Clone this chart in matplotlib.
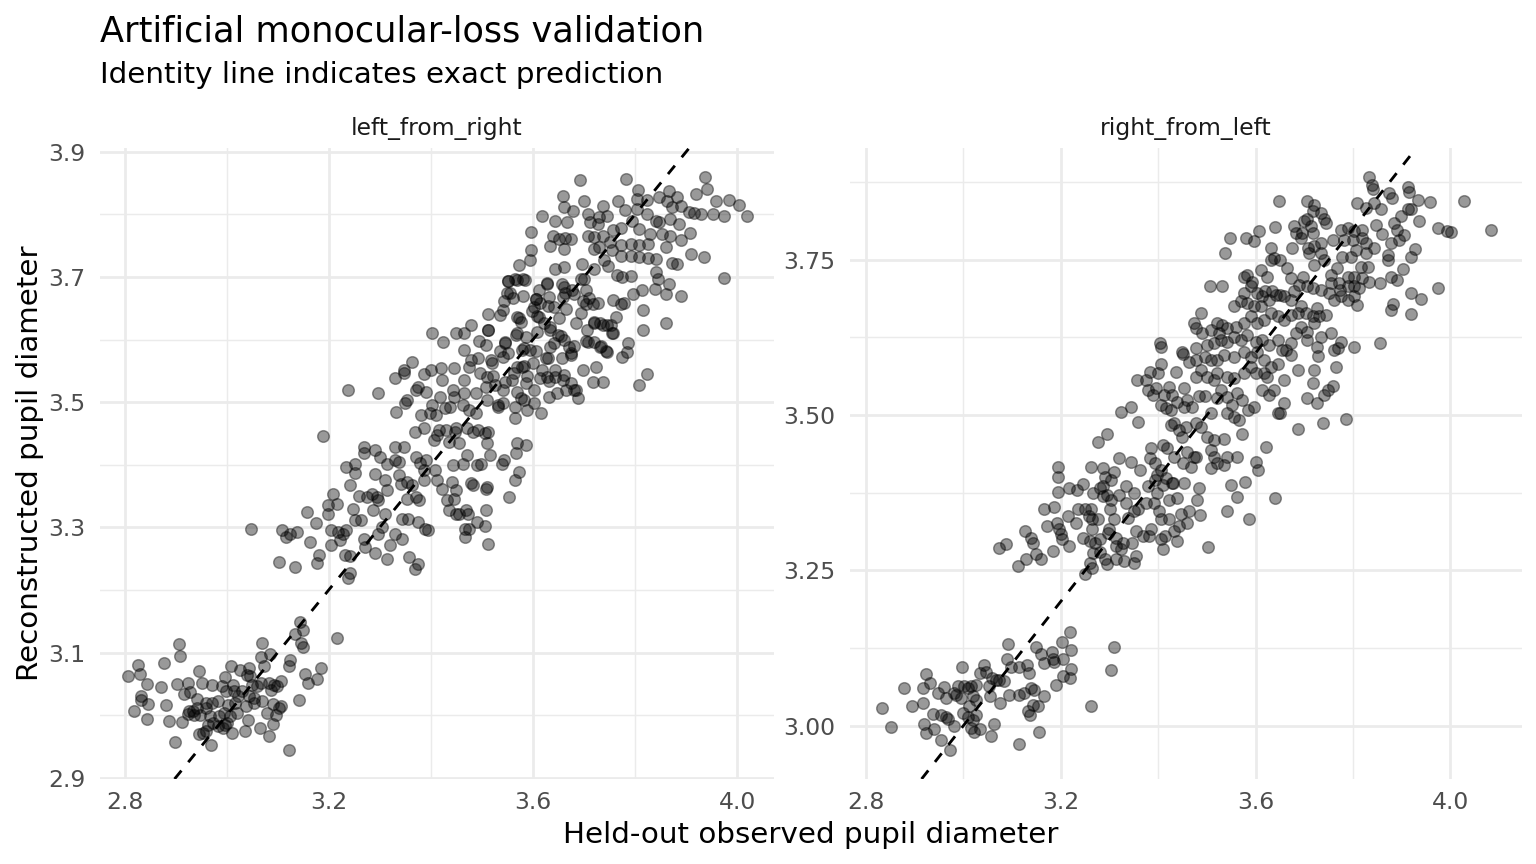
#!/usr/bin/env python3
"""
Artificial monocular-loss validation
Held-out observed vs reconstructed pupil diameter, one panel per direction.
"""

import numpy as np
import matplotlib
matplotlib.use("Agg")
import matplotlib.pyplot as plt

# ---------------------------------------------------------------
# data: (observed, reconstructed)
# ---------------------------------------------------------------

# left_from_right, low cluster
left_low = [
    (2.807, 3.062), (2.826, 3.080), (2.830, 3.066), (2.844, 3.050), (2.833, 3.030),
    (2.833, 3.024), (2.818, 3.007), (2.846, 3.018), (2.845, 2.994), (2.877, 3.083),
    (2.906, 3.114), (2.909, 3.095), (2.871, 3.045), (2.881, 3.016), (2.888, 2.991),
    (2.899, 2.957), (2.903, 3.050), (2.916, 3.033), (2.924, 3.051), (2.928, 3.037),
    (2.945, 3.071), (2.952, 3.052), (2.942, 3.026), (2.913, 2.989), (2.924, 3.002),
    (2.934, 3.006), (2.942, 3.011), (2.947, 3.001), (2.960, 3.019), (2.971, 3.048),
    (2.972, 3.020), (2.967, 2.998), (2.964, 2.985), (2.946, 2.970), (2.954, 2.971),
    (2.969, 2.953), (2.983, 3.022), (2.985, 2.998), (2.990, 3.046), (2.997, 3.061),
    (2.999, 3.038), (3.003, 3.016), (3.000, 2.987), (2.993, 2.979), (3.010, 2.972),
    (3.008, 3.079), (3.012, 3.048), (3.015, 3.039), (3.020, 3.003), (3.027, 3.072),
    (3.030, 3.039), (3.038, 3.014), (3.043, 3.031), (3.044, 3.075), (3.049, 3.048),
    (3.042, 2.993), (3.036, 2.975), (3.070, 3.115), (3.068, 3.093), (3.074, 3.078),
    (3.085, 3.098), (3.068, 3.052), (3.083, 3.051), (3.093, 3.048), (3.106, 3.055),
    (3.070, 3.022), (3.090, 3.018), (3.103, 3.012), (3.096, 3.001), (3.090, 2.986),
    (3.066, 2.979), (3.083, 2.967), (3.122, 2.944), (3.124, 3.088), (3.123, 3.079),
    (3.143, 3.149), (3.149, 3.136), (3.133, 3.130), (3.146, 3.116), (3.149, 3.109),
    (3.154, 3.066), (3.159, 3.052), (3.177, 3.057), (3.185, 3.075), (3.141, 3.024),
    (3.217, 3.123), (3.238, 3.219), (2.926, 3.006), (2.937, 3.001), (2.959, 3.011),
    (2.974, 2.988), (2.983, 2.982), (2.995, 3.003), (3.007, 2.998), (3.017, 3.019),
    (3.023, 3.030), (3.053, 3.027), (3.054, 3.019), (3.060, 3.046), (3.086, 3.040),
    (3.098, 3.046), (3.106, 3.014), (3.079, 3.003), (3.046, 3.062), (3.040, 3.064),
    (2.997, 2.984), (2.960, 2.974),
]

# left_from_right, middle band
left_mid = [
    (3.047, 3.297), (3.109, 3.296), (3.117, 3.284), (3.125, 3.290), (3.137, 3.293),
    (3.158, 3.324), (3.175, 3.307), (3.163, 3.276), (3.180, 3.256), (3.177, 3.243),
    (3.102, 3.244), (3.133, 3.237), (3.188, 3.446), (3.238, 3.520), (3.297, 3.515),
    (3.199, 3.322), (3.198, 3.336), (3.209, 3.354), (3.216, 3.337), (3.205, 3.296),
    (3.218, 3.293), (3.228, 3.290), (3.234, 3.296), (3.223, 3.280), (3.205, 3.272),
    (3.231, 3.256), (3.242, 3.254), (3.241, 3.227), (3.241, 3.368), (3.248, 3.329),
    (3.251, 3.312), (3.264, 3.312), (3.270, 3.282), (3.260, 3.350), (3.274, 3.349),
    (3.284, 3.354), (3.294, 3.349), (3.297, 3.344), (3.287, 3.328), (3.297, 3.290),
    (3.304, 3.301), (3.310, 3.322), (3.314, 3.360), (3.271, 3.269), (3.290, 3.259),
    (3.314, 3.249), (3.320, 3.272), (3.330, 3.290), (3.343, 3.281), (3.343, 3.314),
    (3.356, 3.314), (3.375, 3.309), (3.389, 3.298), (3.394, 3.296), (3.358, 3.253),
    (3.375, 3.241), (3.369, 3.233), (3.234, 3.397), (3.251, 3.402), (3.251, 3.387),
    (3.270, 3.429), (3.270, 3.419), (3.291, 3.424), (3.301, 3.413), (3.290, 3.385),
    (3.311, 3.376), (3.314, 3.402), (3.329, 3.429), (3.330, 3.407), (3.337, 3.405),
    (3.347, 3.429), (3.337, 3.384), (3.342, 3.370), (3.354, 3.373), (3.363, 3.368),
    (3.370, 3.349), (3.377, 3.344), (3.354, 3.346), (3.370, 3.413), (3.379, 3.403),
    (3.390, 3.407), (3.387, 3.392), (3.387, 3.376), (3.409, 3.392), (3.412, 3.376),
    (3.422, 3.362), (3.432, 3.344), (3.442, 3.373), (3.446, 3.346), (3.449, 3.360),
    (3.436, 3.328), (3.449, 3.322), (3.456, 3.322), (3.469, 3.328), (3.472, 3.322),
    (3.482, 3.368), (3.479, 3.371), (3.466, 3.298), (3.474, 3.298), (3.491, 3.309),
    (3.466, 3.284), (3.508, 3.361), (3.509, 3.364), (3.507, 3.328), (3.506, 3.302),
    (3.512, 3.274), (3.553, 3.349), (3.564, 3.376), (3.573, 3.389), (3.407, 3.439),
    (3.412, 3.447), (3.436, 3.437), (3.448, 3.453), (3.455, 3.434), (3.470, 3.415),
    (3.444, 3.399), (3.463, 3.402), (3.491, 3.399), (3.499, 3.402), (3.516, 3.415),
    (3.539, 3.402), (3.544, 3.408), (3.566, 3.419), (3.569, 3.434), (3.586, 3.431),
    (3.509, 3.434), (3.506, 3.450), (3.512, 3.453), (3.493, 3.456), (3.483, 3.453),
    (3.470, 3.458), (3.450, 3.458), (3.430, 3.455), (3.416, 3.455), (3.387, 3.458),
    (3.369, 3.453), (3.332, 3.485), (3.350, 3.498), (3.354, 3.503), (3.374, 3.524),
    (3.381, 3.479), (3.402, 3.495), (3.399, 3.482), (3.410, 3.479), (3.417, 3.508),
    (3.428, 3.490), (3.438, 3.493), (3.446, 3.508), (3.462, 3.495), (3.464, 3.514),
    (3.475, 3.487), (3.488, 3.482), (3.347, 3.551), (3.347, 3.546), (3.363, 3.564),
    (3.330, 3.538), (3.387, 3.545), (3.400, 3.551), (3.420, 3.554), (3.422, 3.535),
    (3.370, 3.519), (3.390, 3.517), (3.443, 3.519), (3.446, 3.554), (3.464, 3.536),
    (3.403, 3.611), (3.424, 3.596), (3.450, 3.610), (3.464, 3.610), (3.478, 3.623),
    (3.464, 3.583), (3.478, 3.567), (3.474, 3.556),
]

# left_from_right, upper cloud
left_high = [
    (3.692, 3.855), (3.782, 3.856), (3.937, 3.859), (3.940, 3.841), (3.919, 3.833),
    (3.958, 3.821), (3.983, 3.823), (4.003, 3.815), (4.019, 3.798), (3.975, 3.798),
    (3.952, 3.801), (3.929, 3.801), (3.916, 3.802), (3.906, 3.804), (3.975, 3.699),
    (3.805, 3.839), (3.803, 3.825), (3.823, 3.823), (3.846, 3.828), (3.866, 3.837),
    (3.883, 3.828), (3.863, 3.822), (3.873, 3.812), (3.889, 3.814), (3.767, 3.822),
    (3.780, 3.807), (3.803, 3.809), (3.823, 3.801), (3.840, 3.790), (3.846, 3.788),
    (3.869, 3.793), (3.886, 3.784), (3.907, 3.770), (3.889, 3.759), (3.869, 3.766),
    (3.853, 3.769), (3.830, 3.768), (3.807, 3.777), (3.793, 3.790), (3.773, 3.779),
    (3.757, 3.775), (3.751, 3.756), (3.737, 3.814), (3.730, 3.796), (3.745, 3.798),
    (3.707, 3.801), (3.711, 3.788), (3.727, 3.785), (3.707, 3.766), (3.720, 3.764),
    (3.737, 3.766), (3.699, 3.821), (3.679, 3.806), (3.661, 3.811), (3.658, 3.829),
    (3.618, 3.798), (3.644, 3.790), (3.666, 3.788), (3.640, 3.766), (3.651, 3.760),
    (3.662, 3.763), (3.674, 3.760), (3.634, 3.749), (3.660, 3.744), (3.596, 3.772),
    (3.597, 3.743), (3.595, 3.727), (3.573, 3.719), (3.644, 3.712), (3.660, 3.716),
    (3.696, 3.721), (3.720, 3.745), (3.730, 3.748), (3.754, 3.743), (3.773, 3.751),
    (3.792, 3.753), (3.808, 3.751), (3.826, 3.753), (3.860, 3.748), (3.873, 3.722),
    (3.883, 3.721), (3.909, 3.737), (3.934, 3.732), (3.825, 3.731), (3.840, 3.729),
    (3.807, 3.732), (3.792, 3.733), (3.772, 3.733), (3.747, 3.717), (3.740, 3.727),
    (3.720, 3.712), (3.764, 3.703), (3.792, 3.701), (3.775, 3.700), (3.840, 3.708),
    (3.844, 3.697), (3.866, 3.689), (3.839, 3.680), (3.860, 3.673), (3.889, 3.670),
    (3.813, 3.679), (3.795, 3.672), (3.778, 3.659), (3.772, 3.656), (3.757, 3.663),
    (3.815, 3.648), (3.815, 3.616), (3.860, 3.626), (3.762, 3.636), (3.745, 3.624),
    (3.755, 3.610), (3.732, 3.627), (3.720, 3.628), (3.732, 3.588), (3.745, 3.580),
    (3.720, 3.596), (3.787, 3.595), (3.785, 3.580), (3.775, 3.572), (3.823, 3.545),
    (3.807, 3.527), (3.724, 3.556), (3.697, 3.552), (3.718, 3.532), (3.738, 3.532),
    (3.689, 3.507), (3.684, 3.520), (3.664, 3.519), (3.658, 3.535), (3.644, 3.540),
    (3.631, 3.508), (3.615, 3.482), (3.588, 3.487), (3.565, 3.474), (3.674, 3.578),
    (3.656, 3.570), (3.707, 3.596), (3.705, 3.615), (3.684, 3.626), (3.694, 3.642),
    (3.704, 3.657), (3.717, 3.657), (3.704, 3.679), (3.694, 3.697), (3.677, 3.679),
    (3.661, 3.684), (3.658, 3.668), (3.664, 3.649), (3.651, 3.634), (3.641, 3.652),
    (3.631, 3.668), (3.628, 3.689), (3.634, 3.620), (3.648, 3.607), (3.661, 3.599),
    (3.671, 3.588), (3.634, 3.588), (3.625, 3.570), (3.628, 3.540), (3.618, 3.551),
    (3.608, 3.612), (3.611, 3.636), (3.601, 3.652), (3.605, 3.665), (3.611, 3.679),
    (3.585, 3.695), (3.568, 3.695), (3.552, 3.694), (3.554, 3.674), (3.542, 3.647),
    (3.535, 3.639), (3.512, 3.641), (3.568, 3.636), (3.576, 3.628), (3.566, 3.607),
    (3.512, 3.615), (3.545, 3.596), (3.586, 3.604), (3.579, 3.583), (3.595, 3.583),
    (3.568, 3.556), (3.579, 3.556), (3.600, 3.562), (3.542, 3.572), (3.519, 3.562),
    (3.509, 3.540), (3.525, 3.527), (3.546, 3.532), (3.558, 3.535), (3.586, 3.530),
    (3.601, 3.519), (3.509, 3.503), (3.532, 3.493), (3.542, 3.498), (3.565, 3.493),
    (3.576, 3.506),
]

# left_from_right, dense core read from a close-up
left_core = [
    (3.552, 3.693), (3.565, 3.696), (3.580, 3.697), (3.549, 3.674), (3.543, 3.661),
    (3.561, 3.666), (3.580, 3.669), (3.605, 3.665), (3.614, 3.658), (3.629, 3.653),
    (3.628, 3.690), (3.657, 3.688), (3.662, 3.674), (3.680, 3.672), (3.700, 3.696),
    (3.697, 3.661), (3.710, 3.666), (3.727, 3.658), (3.720, 3.626), (3.737, 3.624),
    (3.753, 3.624), (3.756, 3.610), (3.733, 3.589), (3.743, 3.581), (3.703, 3.597),
    (3.680, 3.589), (3.674, 3.576), (3.654, 3.605), (3.641, 3.594), (3.634, 3.616),
    (3.621, 3.626), (3.608, 3.637), (3.598, 3.645), (3.572, 3.634), (3.568, 3.610),
    (3.545, 3.594), (3.535, 3.581), (3.512, 3.616), (3.508, 3.592), (3.495, 3.597),
    (3.492, 3.570), (3.518, 3.568), (3.552, 3.578), (3.582, 3.586), (3.605, 3.581),
    (3.629, 3.570), (3.582, 3.557), (3.562, 3.546), (3.588, 3.541), (3.614, 3.538),
    (3.631, 3.533), (3.661, 3.544), (3.644, 3.552), (3.522, 3.541), (3.508, 3.525),
    (3.542, 3.520), (3.568, 3.517), (3.532, 3.496), (3.582, 3.504), (3.602, 3.498),
    (3.647, 3.514), (3.680, 3.520), (3.674, 3.530), (3.496, 3.546), (3.489, 3.514),
]

# right_from_left, low cluster
right_low = [
    (2.832, 3.028), (2.851, 2.997), (2.877, 3.061), (2.894, 3.032), (2.916, 3.036),
    (2.917, 3.060), (2.924, 3.083), (2.932, 3.068), (2.947, 3.052), (2.961, 3.062),
    (2.937, 3.019), (2.954, 3.017), (2.964, 3.014), (2.969, 3.010), (2.918, 3.003),
    (2.923, 2.988), (2.940, 2.994), (2.953, 2.977), (2.973, 2.960), (2.980, 3.000),
    (2.964, 3.044), (2.981, 3.052), (2.988, 3.063), (2.985, 3.049), (2.995, 3.044),
    (2.997, 3.095), (3.002, 3.063), (3.009, 3.060), (3.016, 3.064), (3.026, 3.065),
    (3.033, 3.085), (3.043, 3.098), (3.047, 3.087), (3.019, 3.047), (3.026, 3.041),
    (3.012, 3.031), (2.999, 3.020), (3.009, 3.014), (3.019, 3.009), (3.026, 3.017),
    (3.016, 2.996), (3.021, 2.990), (3.033, 2.994), (3.057, 2.983), (3.062, 3.002),
    (3.053, 3.063), (3.058, 3.076), (3.067, 3.073), (3.074, 3.073), (3.084, 3.072),
    (3.055, 3.047), (3.076, 3.036), (3.089, 3.107), (3.091, 3.132), (3.094, 3.049),
    (3.098, 3.094), (3.115, 3.049), (3.115, 3.095), (3.130, 3.098), (3.134, 3.085),
    (3.125, 3.052), (3.139, 3.060), (3.144, 3.057), (3.132, 3.023), (3.136, 3.017),
    (3.143, 3.033), (3.153, 3.031), (3.166, 3.047), (3.156, 2.989), (3.115, 2.971),
    (3.149, 3.127), (3.160, 3.116), (3.165, 3.100), (3.181, 3.119), (3.183, 3.107),
    (3.185, 3.103), (3.204, 3.108), (3.202, 3.135), (3.218, 3.150), (3.220, 3.121),
    (3.221, 3.091), (3.218, 3.076), (3.204, 3.080), (3.190, 3.065), (3.261, 3.031),
    (3.303, 3.090), (3.310, 3.126),
]

# right_from_left, middle band
right_mid = [
    (3.073, 3.286), (3.087, 3.293), (3.112, 3.257), (3.128, 3.268), (3.127, 3.314),
    (3.138, 3.302), (3.142, 3.294), (3.149, 3.276), (3.159, 3.269), (3.171, 3.321),
    (3.166, 3.349), (3.185, 3.352), (3.183, 3.281), (3.193, 3.326), (3.197, 3.316),
    (3.200, 3.308), (3.203, 3.300), (3.217, 3.289), (3.214, 3.337), (3.231, 3.326),
    (3.195, 3.376), (3.194, 3.401), (3.195, 3.417), (3.217, 3.382), (3.233, 3.380),
    (3.246, 3.389), (3.236, 3.348), (3.250, 3.348), (3.261, 3.348), (3.257, 3.337),
    (3.263, 3.332), (3.277, 3.332), (3.263, 3.316), (3.246, 3.302), (3.259, 3.297),
    (3.270, 3.294), (3.280, 3.300), (3.267, 3.278), (3.280, 3.279), (3.291, 3.268),
    (3.294, 3.260), (3.260, 3.262), (3.263, 3.254), (3.250, 3.244), (3.296, 3.310),
    (3.299, 3.316), (3.310, 3.332), (3.313, 3.302), (3.313, 3.289), (3.327, 3.294),
    (3.323, 3.284), (3.313, 3.269), (3.330, 3.265), (3.350, 3.262), (3.354, 3.273),
    (3.347, 3.294), (3.354, 3.313), (3.368, 3.305), (3.385, 3.316), (3.381, 3.305),
    (3.405, 3.300), (3.409, 3.284), (3.413, 3.305), (3.433, 3.313), (3.439, 3.297),
    (3.443, 3.321), (3.439, 3.366), (3.422, 3.364), (3.402, 3.345), (3.405, 3.332),
    (3.422, 3.332), (3.446, 3.340), (3.460, 3.326), (3.463, 3.345), (3.480, 3.364),
    (3.484, 3.382), (3.486, 3.339), (3.503, 3.288), (3.542, 3.345), (3.561, 3.368),
    (3.549, 3.388), (3.578, 3.393), (3.586, 3.333), (3.600, 3.425), (3.604, 3.412),
    (3.541, 3.433), (3.562, 3.433), (3.535, 3.420), (3.521, 3.423), (3.508, 3.415),
    (3.515, 3.433), (3.508, 3.444), (3.477, 3.433), (3.467, 3.417), (3.453, 3.390),
    (3.431, 3.390), (3.409, 3.388), (3.398, 3.374), (3.392, 3.358), (3.374, 3.358),
    (3.358, 3.348), (3.350, 3.345), (3.337, 3.334), (3.333, 3.358), (3.350, 3.374),
    (3.333, 3.385), (3.320, 3.372), (3.303, 3.364), (3.294, 3.372), (3.287, 3.369),
    (3.300, 3.348), (3.287, 3.385), (3.303, 3.396), (3.310, 3.409), (3.290, 3.401),
    (3.287, 3.415), (3.262, 3.417), (3.280, 3.382), (3.267, 3.374), (3.320, 3.431),
    (3.345, 3.425), (3.363, 3.412), (3.383, 3.431), (3.386, 3.447), (3.393, 3.423),
    (3.397, 3.404), (3.393, 3.396), (3.379, 3.385), (3.405, 3.412), (3.416, 3.399),
    (3.429, 3.390), (3.419, 3.447), (3.409, 3.452), (3.433, 3.433), (3.450, 3.423),
    (3.460, 3.441), (3.474, 3.433), (3.443, 3.476), (3.426, 3.484), (3.433, 3.487),
    (3.323, 3.505), (3.344, 3.513), (3.359, 3.489), (3.277, 3.456), (3.294, 3.470),
    (3.357, 3.556), (3.374, 3.556), (3.383, 3.569), (3.400, 3.567), (3.396, 3.543),
    (3.379, 3.540), (3.389, 3.532), (3.405, 3.516), (3.416, 3.511), (3.426, 3.508),
    (3.412, 3.532), (3.422, 3.545), (3.436, 3.569), (3.439, 3.521), (3.405, 3.583),
    (3.405, 3.610), (3.403, 3.616), (3.429, 3.532), (3.640, 3.367),
]

# right_from_left, upper cloud
right_high = [
    (3.832, 3.884), (3.838, 3.871), (3.840, 3.864), (3.913, 3.867), (3.915, 3.859),
    (3.874, 3.858), (3.881, 3.849), (3.933, 3.846), (3.959, 3.843), (4.027, 3.845),
    (4.084, 3.798), (3.974, 3.801), (3.994, 3.796), (4.001, 3.794), (3.936, 3.813),
    (3.919, 3.831), (3.912, 3.832), (3.898, 3.820), (3.885, 3.809), (3.890, 3.798),
    (3.905, 3.790), (3.895, 3.782), (3.878, 3.777), (3.859, 3.792), (3.847, 3.806),
    (3.857, 3.831), (3.843, 3.841), (3.826, 3.833), (3.809, 3.841), (3.843, 3.769),
    (3.871, 3.758), (3.871, 3.750), (3.919, 3.754), (3.927, 3.767), (3.902, 3.735),
    (3.891, 3.718), (3.879, 3.723), (3.856, 3.713), (3.833, 3.715), (3.919, 3.696),
    (3.940, 3.687), (3.974, 3.705), (3.883, 3.679), (3.879, 3.669), (3.919, 3.663),
    (3.855, 3.616), (3.802, 3.610), (3.775, 3.617), (3.769, 3.608), (3.761, 3.605),
    (3.754, 3.632), (3.765, 3.578), (3.719, 3.573), (3.729, 3.595), (3.717, 3.551),
    (3.748, 3.540), (3.758, 3.546), (3.741, 3.532), (3.727, 3.519), (3.706, 3.528),
    (3.739, 3.488), (3.785, 3.494), (3.687, 3.478), (3.658, 3.519), (3.651, 3.503),
    (3.645, 3.503), (3.686, 3.573), (3.672, 3.597), (3.655, 3.605), (3.645, 3.583),
    (3.658, 3.556), (3.638, 3.540), (3.628, 3.532), (3.614, 3.540), (3.597, 3.513),
    (3.584, 3.508), (3.573, 3.524), (3.562, 3.535), (3.552, 3.516), (3.542, 3.529),
    (3.528, 3.540), (3.521, 3.527), (3.508, 3.503), (3.497, 3.530), (3.484, 3.530),
    (3.470, 3.513), (3.459, 3.524), (3.453, 3.513), (3.453, 3.543), (3.477, 3.562),
    (3.487, 3.573), (3.501, 3.562), (3.514, 3.556), (3.521, 3.567), (3.542, 3.562),
    (3.556, 3.559), (3.576, 3.567), (3.590, 3.578), (3.600, 3.567), (3.617, 3.567),
    (3.624, 3.562), (3.631, 3.578), (3.617, 3.589), (3.603, 3.602), (3.590, 3.594),
    (3.576, 3.602), (3.556, 3.594), (3.535, 3.597), (3.521, 3.589), (3.508, 3.589),
    (3.497, 3.594), (3.477, 3.589), (3.463, 3.586), (3.450, 3.599), (3.477, 3.608),
    (3.500, 3.613), (3.514, 3.616), (3.528, 3.621), (3.542, 3.618), (3.556, 3.626),
    (3.569, 3.621), (3.583, 3.629), (3.600, 3.618), (3.614, 3.621), (3.628, 3.613),
    (3.645, 3.621), (3.662, 3.605), (3.672, 3.616), (3.682, 3.632), (3.693, 3.642),
    (3.706, 3.634), (3.720, 3.648), (3.730, 3.659), (3.734, 3.626), (3.744, 3.661),
    (3.727, 3.610), (3.706, 3.621), (3.531, 3.645), (3.542, 3.640), (3.559, 3.642),
    (3.576, 3.648), (3.590, 3.659), (3.603, 3.648), (3.617, 3.653), (3.631, 3.664),
    (3.645, 3.659), (3.658, 3.653), (3.672, 3.661), (3.686, 3.664), (3.693, 3.675),
    (3.703, 3.664), (3.717, 3.659), (3.727, 3.672), (3.555, 3.675), (3.569, 3.683),
    (3.583, 3.680), (3.597, 3.675), (3.610, 3.675), (3.627, 3.685), (3.641, 3.694),
    (3.658, 3.691), (3.672, 3.685), (3.679, 3.699), (3.576, 3.696), (3.576, 3.723),
    (3.590, 3.707), (3.603, 3.696), (3.614, 3.691), (3.620, 3.699), (3.634, 3.699),
    (3.651, 3.694), (3.624, 3.723), (3.610, 3.734), (3.583, 3.726), (3.593, 3.715),
    (3.631, 3.750), (3.638, 3.753), (3.631, 3.769), (3.651, 3.750), (3.665, 3.737),
    (3.672, 3.720), (3.689, 3.710), (3.698, 3.723), (3.706, 3.707), (3.717, 3.704),
    (3.720, 3.742), (3.709, 3.761), (3.720, 3.772), (3.734, 3.777), (3.734, 3.761),
    (3.741, 3.750), (3.758, 3.782), (3.775, 3.798), (3.782, 3.782), (3.789, 3.801),
    (3.802, 3.796), (3.799, 3.782), (3.819, 3.798), (3.819, 3.785), (3.826, 3.777),
    (3.826, 3.761), (3.806, 3.766), (3.796, 3.755), (3.778, 3.755), (3.768, 3.737),
    (3.755, 3.726), (3.751, 3.696), (3.761, 3.685), (3.775, 3.691), (3.789, 3.685),
    (3.802, 3.691), (3.809, 3.677), (3.802, 3.707), (3.812, 3.704), (3.819, 3.720),
    (3.802, 3.723), (3.816, 3.739), (3.830, 3.739), (3.789, 3.723), (3.789, 3.707),
    (3.772, 3.712), (3.774, 3.702), (3.755, 3.712), (3.734, 3.702), (3.706, 3.844),
    (3.720, 3.839), (3.717, 3.828), (3.734, 3.825), (3.741, 3.815), (3.744, 3.809),
    (3.706, 3.815), (3.713, 3.804), (3.700, 3.812), (3.679, 3.804), (3.682, 3.793),
    (3.696, 3.793), (3.717, 3.793), (3.693, 3.785), (3.675, 3.769), (3.707, 3.769),
    (3.647, 3.844), (3.640, 3.803), (3.607, 3.796), (3.596, 3.780), (3.580, 3.785),
    (3.548, 3.785), (3.538, 3.761), (3.506, 3.707), (3.531, 3.708), (3.488, 3.664),
    (3.473, 3.648), (3.477, 3.640), (3.521, 3.648), (3.508, 3.637), (3.524, 3.632),
    (3.490, 3.632), (3.449, 3.602), (3.456, 3.481), (3.477, 3.487), (3.487, 3.481),
    (3.501, 3.465), (3.514, 3.460), (3.535, 3.462), (3.573, 3.470), (3.566, 3.492),
    (3.556, 3.497), (3.542, 3.503), (3.621, 3.449), (3.449, 3.465),
]

panel_titles = ["left_from_right", "right_from_left"]

x_ticks = [2.8, 3.2, 3.6, 4.0]
left_y_ticks = [2.9, 3.1, 3.3, 3.5, 3.7, 3.9]
right_y_ticks = [3.00, 3.25, 3.50, 3.75]

TITLE = "Artificial monocular-loss validation"
SUBTITLE = "Identity line indicates exact prediction"
XLABEL = "Held-out observed pupil diameter"
YLABEL = "Reconstructed pupil diameter"

GRID = "#EBEBEB"
TICK_COLOR = "#4D4D4D"

W, H = 1536, 864


def px_box(left, top, right, bottom):
    """figure-fraction rect from pixel edges"""
    return [left / W, 1 - bottom / H, (right - left) / W, (bottom - top) / H]


def style_panel(ax, xlim, ylim, xticks, yticks, yfmt):
    for s in ax.spines.values():
        s.set_visible(False)

    ax.set_xticks(xticks)
    ax.set_xticklabels([f"{v:.1f}" for v in xticks])
    ax.set_yticks(yticks)
    ax.set_yticklabels([yfmt.format(v) for v in yticks])

    # minor grid halfway between the majors
    xminor = [(a + b) / 2 for a, b in zip(xticks[:-1], xticks[1:])]
    step = yticks[1] - yticks[0]
    yminor = [v + step / 2 for v in yticks] + [yticks[0] - step / 2]
    ax.set_xticks(xminor, minor=True)
    ax.set_yticks(yminor, minor=True)

    # limits last, set_ticks would widen them otherwise
    ax.set_xlim(*xlim)
    ax.set_ylim(*ylim)

    ax.tick_params(which="both", length=0)
    ax.tick_params(axis="x", pad=4.6, labelsize=8.8, labelcolor=TICK_COLOR)
    ax.tick_params(axis="y", pad=5.5, labelsize=8.8, labelcolor=TICK_COLOR)
    ax.grid(which="major", color=GRID, linewidth=1.05)
    ax.grid(which="minor", color=GRID, linewidth=0.55)
    ax.set_axisbelow(True)


def draw_panel(ax, groups):
    pts = np.array([p for g in groups for p in g])
    ax.scatter(pts[:, 0], pts[:, 1], s=19, facecolor=(0, 0, 0, 0.4),
               edgecolor=(0, 0, 0, 0.4), linewidth=0.55, zorder=2)
    ax.axline((3.0, 3.0), slope=1, color="black", linewidth=1.07,
              linestyle=(0, (3.8, 3.8)), zorder=3)


plt.rcParams["font.family"] = ["DejaVu Sans"]

fig = plt.figure(figsize=(8, 4.5), dpi=192)
fig.patch.set_facecolor("white")

ax_l = fig.add_axes(px_box(100, 148, 774, 779))
ax_r = fig.add_axes(px_box(850, 148, 1522, 779))

draw_panel(ax_l, [left_low, left_mid, left_high, left_core])
draw_panel(ax_r, [right_low, right_mid, right_high])

style_panel(ax_l, (2.752, 4.072), (2.898, 3.906), x_ticks, left_y_ticks, "{:.1f}")
style_panel(ax_r, (2.767, 4.147), (2.914, 3.930), x_ticks, right_y_ticks, "{:.2f}")

# facet strips
for ax, name in zip([ax_l, ax_r], panel_titles):
    bb = ax.get_position()
    fig.text(bb.x0 + bb.width / 2, 1 - 135 / H, name, ha="center",
             va="baseline", fontsize=8.8, color="#1A1A1A")

fig.text(100 / W, 1 - 41.7 / H, TITLE, ha="left", va="baseline", fontsize=13.2)
fig.text(100 / W, 1 - 83.3 / H, SUBTITLE, ha="left", va="baseline", fontsize=11)
fig.text(811 / W, 1 - 843 / H, XLABEL, ha="center", va="baseline", fontsize=11)
fig.text(30 / W, 1 - 463 / H, YLABEL, ha="center", va="center",
         rotation=90, fontsize=11)

fig.savefig("out.png", dpi=192, facecolor="white")
print("saved out.png")
